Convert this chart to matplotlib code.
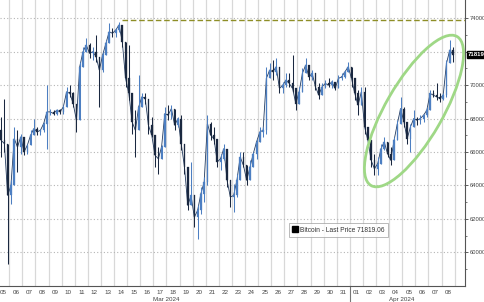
import numpy as np
import pandas as pd
import matplotlib
matplotlib.use('Agg')
import matplotlib.pyplot as plt
import matplotlib.dates as mdates
import matplotlib.transforms as mtransforms
from matplotlib.patches import Ellipse
from matplotlib.lines import Line2D

## Bitcoin 6-hour bars, 05 Mar 2024 -> 08 Apr 2024
close = [67300, 66700, 66500, 63400, 64000, 66800, 66300, 66900, 66000, 66400,
         67000, 67400, 67200, 67300, 67700, 68400, 68400, 68300, 68500, 68400,
         68700, 69600, 69500, 68900, 67900, 71100, 72000, 72400, 71900, 72000,
         71700, 70900, 71800, 72500, 73200, 73100, 73300, 73600, 72600, 70400,
         69500, 67800, 67300, 68700, 69300, 69200, 67600, 67000, 65800, 65600,
         66300, 68300, 68200, 68600, 67600, 68000, 66500, 65100, 62800, 63400,
         62100, 62500, 63500, 64200, 67700, 67000, 66800, 65400, 65600, 66200,
         64300, 63300, 63400, 64300, 65700, 65200, 64300, 65100, 65900, 66600,
         67200, 67300, 70400, 70900, 70800, 71100, 69800, 70000, 70300, 70100,
         69800, 68900, 69600, 70700, 71200, 70500, 70700, 69900, 69400, 69900,
         70100, 70000, 70200, 69800, 70400, 70500, 70800, 71100, 70400, 69500,
         68800, 69600, 67500, 66700, 65500, 65000, 65300, 66200, 66600, 65900,
         65500, 66700, 67700, 68600, 67800, 66800, 67500, 68000, 67900, 68000,
         68200, 68500, 69500, 69400, 69300, 69200, 69400, 71300, 72100, 71819]
high = [68000, 68100, 69200, 66200, 64300, 67500, 67300, 67100, 66600, 66500,
        67300, 68000, 67500, 67400, 67800, 70000, 68600, 68500, 68600, 68600,
        68800, 69900, 70000, 69600, 68500, 71400, 72300, 72800, 72500, 72300,
        73000, 71700, 72000, 72700, 73700, 73400, 73400, 73800, 73600, 72600,
        72400, 69500, 68500, 70600, 69500, 69500, 69200, 68100, 67000, 66300,
        66400, 68700, 68800, 68800, 68600, 68100, 68200, 66500, 65100, 65400,
        63400, 62800, 63900, 64500, 68200, 67800, 67500, 66800, 65900, 66500,
        66200, 64300, 64100, 64700, 66000, 66000, 65200, 65500, 66000, 66800,
        67500, 67500, 71100, 71300, 71500, 71600, 71100, 70200, 70700, 70700,
        71800, 69800, 69900, 71000, 71600, 71200, 70900, 70700, 70100, 70100,
        70300, 70400, 70300, 70200, 70600, 70700, 70900, 71400, 71100, 70400,
        69700, 69900, 69900, 67500, 66700, 65900, 65700, 66500, 66900, 66600,
        66300, 66900, 67900, 69300, 68700, 67800, 67700, 68500, 68100, 68200,
        68300, 68700, 69700, 69700, 70100, 69500, 69500, 71500, 72700, 72300]
low = [66600, 65700, 66000, 59300, 62900, 64700, 64800, 65900, 65800, 65900,
       66600, 67000, 67000, 67000, 67200, 66200, 68200, 68200, 68200, 68300,
       68300, 68700, 69300, 68700, 67200, 67900, 71100, 72000, 71600, 71500,
       71400, 68700, 70800, 71800, 72500, 72900, 72900, 73200, 72300, 69900,
       69100, 67100, 65700, 67300, 68700, 68900, 67100, 66900, 65100, 64700,
       65600, 66300, 67900, 68000, 67300, 67500, 66100, 64700, 62500, 62800,
       61500, 60800, 62300, 63000, 64000, 66700, 66500, 65100, 64900, 65500,
       63900, 62700, 62400, 63300, 64300, 65100, 64000, 64300, 65100, 65600,
       66600, 66900, 67100, 70400, 70300, 70600, 69500, 69500, 69900, 69900,
       69600, 68500, 68900, 69600, 70700, 70300, 70300, 69700, 69200, 69400,
       69800, 69900, 69800, 69700, 69800, 70300, 70400, 70800, 69900, 69100,
       68200, 68800, 67100, 66300, 65100, 64600, 64600, 65300, 66100, 65700,
       65200, 65500, 66700, 67700, 67500, 66500, 66000, 67500, 67600, 67700,
       67800, 68100, 68500, 69300, 69100, 69000, 69100, 69300, 71300, 71400]

last_price = 71819.06
prev_high = 73880
ath_time = pd.Timestamp('2024-03-14 14:00')

times = pd.date_range('2024-03-05', periods=len(close), freq='6h')
x = mdates.date2num(times) + 0.125          # bar centres
c = np.array(close, float)
o = np.r_[67000.0, c[:-1]]                  # open = previous close
h = np.maximum(np.array(high, float), np.maximum(o, c))
l = np.minimum(np.array(low, float), np.minimum(o, c))
up = c >= o
col = np.where(up, '#4d7fc2', '#1a2840')

fig = plt.figure(figsize=(4.85, 3.02), dpi=100)
ax = fig.add_axes([0, 16/302, 465/485, 286/302])

t0 = mdates.date2num(pd.Timestamp('2024-03-05'))
ax.set_xlim(t0 + 0.29, t0 + 35.79)
ax.set_ylim(57980, 75095)

# grid: solid verticals at day boundaries, dotted horizontals
days = mdates.date2num(pd.date_range('2024-03-06', '2024-04-09', freq='D'))
for d in days:
    ax.axvline(d, color='#d8d8d8', lw=0.9, zorder=0)
for yv in range(60000, 75000, 2000):
    ax.axhline(yv, color='#b5b5b5', lw=0.8, ls=(0, (1, 2)), zorder=0)

# candles
ax.plot(x, c, color='#223a5e', lw=0.6, zorder=1)
ax.vlines(x, l, h, colors=col, lw=0.75, zorder=2)
ax.bar(x, np.abs(c - o), bottom=np.minimum(o, c), width=0.12,
       color=col, edgecolor=col, lw=0.2, zorder=3)

# previous all-time-high line
ax.hlines(prev_high, mdates.date2num(ath_time), t0 + 35.79,
          colors='#8e8e26', lw=1.0, linestyles=(0, (4, 2)), zorder=4)

# highlight ellipse (figure inches)
ell = Ellipse((4.14, (302 - 111) / 100), width=1.72, height=0.57, angle=60,
              transform=fig.dpi_scale_trans, fill=False,
              edgecolor='#9fd886', lw=2.0, zorder=5)
fig.add_artist(ell)

# axes styling
for s in ['top', 'left']:
    ax.spines[s].set_visible(False)
for s in ['right', 'bottom']:
    ax.spines[s].set_color('#555555')
    ax.spines[s].set_linewidth(0.8)

ax.yaxis.tick_right()
ax.set_yticks(range(60000, 75000, 2000))
ax.set_yticks(range(59000, 75000, 1000), minor=True)
# the 72000 label sits under the last-price tag
ax.yaxis.set_major_formatter(plt.FuncFormatter(
    lambda v, p: '' if abs(v - 72000) < 1 else '%d' % v))
ax.tick_params(axis='y', which='major', labelsize=4.2, colors='#444444',
               length=2.5, width=0.6, pad=1.0)
ax.tick_params(axis='y', which='minor', length=1.5, width=0.5, colors='#444444')
for lab in ax.get_yticklabels():
    lab.set_fontfamily('Liberation Sans')

day_mid = mdates.date2num(pd.date_range('2024-03-05 12:00', '2024-04-08 12:00', freq='D'))
ax.set_xticks(day_mid)
ax.set_xticklabels(pd.date_range('2024-03-05', '2024-04-08', freq='D').strftime('%d'),
                   fontfamily='Liberation Sans')
ax.tick_params(axis='x', length=0, labelsize=4.5, colors='#444444', pad=2.8)

trans = mtransforms.blended_transform_factory(ax.transData, ax.transAxes)
apr1 = mdates.date2num(pd.Timestamp('2024-04-01'))
ax.plot([apr1, apr1], [0, -0.08], transform=trans, clip_on=False,
        color='#777777', lw=0.8)
ax.text(t0 + 12.95, -0.048, 'Mar 2024', transform=trans, ha='center', va='center',
        fontsize=4.5, color='#444444', fontfamily='Liberation Sans')
ax.text(t0 + 30.98, -0.048, 'Apr 2024', transform=trans, ha='center', va='center',
        fontsize=4.5, color='#444444', fontfamily='Liberation Sans')

# last price tag on right axis
trans_y = mtransforms.blended_transform_factory(ax.transAxes, ax.transData)
ax.text(1.006, last_price, '%d' % last_price, transform=trans_y, ha='left', va='center',
        fontsize=4.3, color='white', fontweight='bold', fontfamily='Liberation Sans',
        bbox=dict(boxstyle='square,pad=0.15', fc='black', ec='black'), clip_on=False,
        zorder=10)

# legend
handle = Line2D([], [], marker='s', color='black', linestyle='none', markersize=3.8)
leg = ax.legend([handle], ['Bitcoin - Last Price %.2f' % last_price],
                loc='lower left', bbox_to_anchor=(0.615, 0.16),
                prop={'family': 'Liberation Sans', 'size': 4.8},
                frameon=True, fancybox=False, edgecolor='#9a9a9a',
                handlelength=0.8, handletextpad=0.3, borderpad=0.5)
leg.get_frame().set_linewidth(0.6)
for t in leg.get_texts():
    t.set_color('#333333')

fig.savefig('out.png', dpi=100)
